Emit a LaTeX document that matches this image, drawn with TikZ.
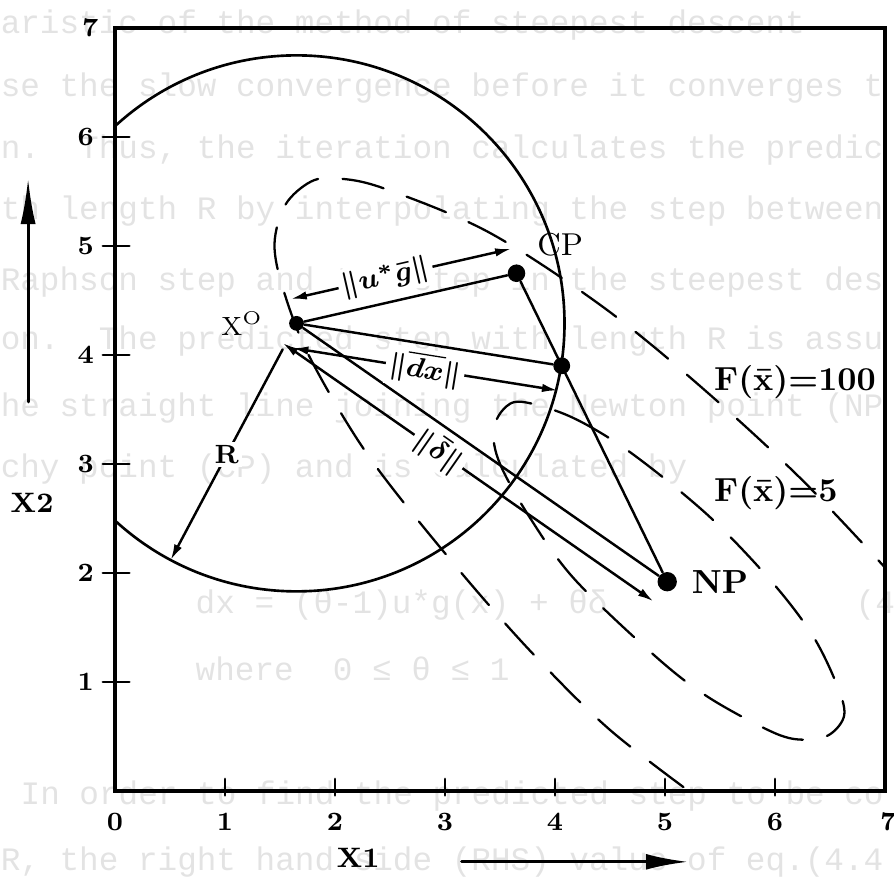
\documentclass[tikz,border=0pt]{standalone}
\usepackage{amsmath,amssymb}
\usepackage{fontspec}
\newfontfamily\scanfont{Liberation Mono}
\usepackage{tikz}
\usetikzlibrary{arrows.meta,calc,positioning}

\begin{document}
\begin{tikzpicture}[x=1.1cm,y=1.09cm,>={Latex[length=4.5pt,width=2.4pt]},line cap=round,
  bleed/.style={anchor=base west,inner sep=0pt,text=black!11,font=\scanfont\fontsize{9.3}{11}\selectfont},
  num/.style={inner sep=0.5pt,font=\bfseries\fontsize{7.5}{9}\selectfont},
  axlbl/.style={inner sep=0.5pt,font=\bfseries\fontsize{8}{9}\selectfont},
  dot/.style={circle,fill=black,inner sep=0pt,minimum size=#1},dot/.default=4.5pt,
  seg/.style={line width=0.7pt},
  dim/.style={line width=0.7pt,<->},
  lbl/.style={fill=white,inner sep=1pt,font=\fontsize{8}{9}\selectfont},
  flbl/.style={anchor=west,inner sep=0pt,font=\bfseries\fontsize{9.5}{11}\selectfont},
  contour/.style={line width=0.65pt,dash pattern=on 12pt off 7pt}]
\useasboundingbox (-1.0455,-0.7982) rectangle (7.0818,7.2569);
\node[bleed] (b1) at (-1.045,6.945) {aristic of the method of steepest descent};
\node[bleed] (b2) at (-1.045,6.367) {se the slow convergence before it converges t};
\node[bleed] (b3) at (-1.045,5.807) {n.~~Thus, the iteration calculates the predic};
\node[bleed] (b4) at (-1.045,5.239) {th length R by interpolating the step between};
\node[bleed] (b5) at (-1.045,4.587) {Raphson step and the step in the steepest des};
\node[bleed] (b6) at (-1.045,4.046) {on.~~The predicted step with length R is assu};
\node[bleed] (b7) at (-1.045,3.440) {he straight line joining the Newton point (NP};
\node[bleed] (b8) at (-1.045,2.872) {chy point (CP) and is calculated by};
\node[bleed] (b9) at (0.727,1.624) {dx = (θ-1)u*g(x) + θδ};
\node[bleed] (b9r) at (6.727,1.624) {(4.5)};
\node[bleed] (b10) at (0.727,1.018) {where~~0 ≤ θ ≤ 1};
\node[bleed] (b11) at (-0.864,-0.128) {In order to find the predicted step to be co};
\node[bleed] (b12) at (-1.045,-0.725) {R, the right hand side (RHS) value of eq.(4.4};
\draw[line width=0.9pt] (0,0) rectangle (7,7);
\draw[line width=0.8pt] (-0.11,1) -- (0.13,1);
\draw[line width=0.8pt] (-0.11,2) -- (0.13,2);
\draw[line width=0.8pt] (-0.11,3) -- (0.13,3);
\draw[line width=0.8pt] (-0.11,4) -- (0.13,4);
\draw[line width=0.8pt] (-0.11,5) -- (0.13,5);
\draw[line width=0.8pt] (-0.11,6) -- (0.13,6);
\draw[line width=0.8pt] (1,-0.04) -- (1,0.11);
\draw[line width=0.8pt] (2,-0.04) -- (2,0.11);
\draw[line width=0.8pt] (3,-0.04) -- (3,0.11);
\draw[line width=0.8pt] (4,-0.04) -- (4,0.11);
\draw[line width=0.8pt] (5,-0.04) -- (5,0.11);
\draw[line width=0.8pt] (6,-0.04) -- (6,0.11);
\node[num,anchor=east] (y1) at (-0.17,1) {1};
\node[num,anchor=east] (y2) at (-0.17,2) {2};
\node[num,anchor=east] (y3) at (-0.17,3) {3};
\node[num,anchor=east] (y4) at (-0.17,4) {4};
\node[num,anchor=east] (y5) at (-0.17,5) {5};
\node[num,anchor=east] (y6) at (-0.17,6) {6};
\node[num,anchor=east] (y7) at (-0.13,7) {7};
\node[num] (x0) at (0,-0.285) {0};
\node[num] (x1) at (1,-0.285) {1};
\node[num] (x2) at (2,-0.285) {2};
\node[num] (x3) at (3,-0.285) {3};
\node[num] (x4) at (4,-0.285) {4};
\node[num] (x5) at (5,-0.285) {5};
\node[num] (x6) at (6,-0.285) {6};
\node[num] (x7) at (7.03,-0.285) {7};
\node[axlbl] (X1lbl) at (2.21,-0.61) {X1};
\node[axlbl] (X2lbl) at (-0.755,2.64) {X2};
\coordinate (xa) at (3.15,-0.65);
\coordinate (xb) at (5.21,-0.65);
\coordinate (ya) at (-0.79,3.57);
\coordinate (yb) at (-0.79,5.62);
\draw[line width=0.85pt,-{Latex[length=12pt,width=4.5pt]}] (xa) -- (xb);
\draw[line width=0.85pt,-{Latex[length=13pt,width=4.3pt]}] (ya) -- (yb);
\node[dot=4.2pt] (X0) at (1.65,4.29) {};
\node[dot=5pt] (CP) at (3.65,4.75) {};
\node[dot=5.5pt] (NP) at (5.02,1.92) {};
\node[dot=4.8pt] (D) at ($(CP)!0.3!(NP)$) {};
\coordinate (rim) at ($(X0.center)+(242:2.68cm)$);
\begin{scope}
\clip (0,0) rectangle (7,7);
\draw[line width=0.75pt] (X0.center) circle[radius=2.68cm];
\draw[contour] plot[smooth,tension=0.55] coordinates {(7.20,1.83) (6.25,2.85) (5.29,3.74) (4.41,4.46) (3.39,5.13) (2.44,5.53) (2.02,5.62) (1.78,5.59) (1.55,5.38) (1.45,5.02) (1.53,4.60) (1.77,3.98) (2.30,3.08) (3.05,2.12) (3.77,1.29) (4.50,0.56) (5.35,-0.10)};
\draw[contour] plot[smooth cycle,tension=0.55] coordinates {(3.70,3.57) (4.15,3.43) (4.68,3.11) (5.39,2.53) (5.97,1.92) (6.34,1.43) (6.56,0.98) (6.63,0.70) (6.50,0.52) (6.28,0.47) (6.00,0.53) (5.41,0.85) (4.93,1.22) (4.18,1.94) (3.77,2.51) (3.50,3.00) (3.44,3.30) (3.53,3.50)};
\end{scope}
\draw[seg] (X0) -- (CP);
\draw[seg] (X0) -- (D);
\draw[seg] (X0) -- (NP);
\draw[seg] (CP) -- (NP);
\draw[dim] ($(X0)!0.25cm!90:(CP)$) -- node[lbl,sloped,pos=0.43] {$\boldsymbol{\|u^{*}\bar{g}\|}$} ($(CP)!0.25cm!-90:(X0)$);
\draw[dim] ($(X0)!0.25cm!-90:(D)$) -- node[lbl,sloped,pos=0.5] {$\boldsymbol{\|\overline{dx}\|}$} ($(D)!0.25cm!90:(X0)$);
\draw[dim] ($(X0)!0.24cm!-90:(NP)$) -- node[lbl,sloped,pos=0.42] {$\boldsymbol{\|\bar{\delta}\|}$} ($(NP)!0.24cm!90:(X0)$);
\draw[seg,->] ($(X0)!0.11!(rim)$) -- node[lbl,font=\bfseries\fontsize{7.5}{9}\selectfont] {R} (rim);
\node[font=\fontsize{7.5}{9}\selectfont,inner sep=0pt,left=7pt of X0] (X0lbl) {X$^{\mathrm{O}}$};
\node[font=\fontsize{9}{10}\selectfont,inner sep=1pt,above right=0.06cm and 0.1cm of CP] (CPlbl) {CP};
\node[font=\bfseries\fontsize{9.5}{11}\selectfont,inner sep=1pt,right=0.1cm of NP] (NPlbl) {NP};
\node[flbl] (F100) at (5.44,3.75) {F(\=x)=100};
\node[flbl] (F5) at (5.44,2.73) {F(\=x)=5};
\end{tikzpicture}
\end{document}
